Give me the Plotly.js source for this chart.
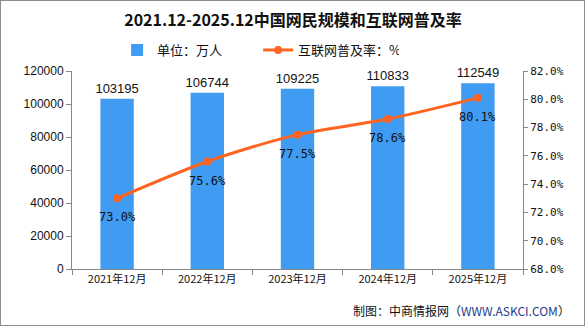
<!DOCTYPE html>
<html><head><meta charset="utf-8">
<script src="https://cdn.plot.ly/plotly-3.0.1.min.js"></script>
<style>
html,body{margin:0;padding:0;background:#fff;}
#wrap{position:absolute;left:0;top:0;width:583px;height:324px;border:1px solid #8c8c8c;}
#chart{position:absolute;left:0;top:0;width:586px;height:327px;}
</style></head>
<body>
<div id="chart"></div>
<div id="wrap"></div>
<script>
const categories = ["2021年12月","2022年12月","2023年12月","2024年12月","2025年12月"];
const netizens = [103195,106744,109225,110833,112549];
const penetration = [73.0,75.6,77.5,78.6,80.1];
const barName = "单位：万人";
const lineName = "互联网普及率：%";

const font = "'Liberation Sans', Arial, 'Noto Sans CJK SC', sans-serif";
const cjk = "'Noto Sans CJK SC', sans-serif";
const mono = "'DejaVu Sans Mono', monospace";

const traces = [
  {type:"bar", x:categories, y:netizens, name:barName, width:0.37,
   marker:{color:"#3F9CF2"}, text:netizens.map(String), textposition:"outside", constraintext:"none",
   textfont:{family:font,size:13,color:"#111"}, cliponaxis:false, yaxis:"y"},
  {type:"scatter", mode:"lines+markers", x:categories, y:penetration, name:lineName, yaxis:"y2",
   line:{color:"#FF6522",width:3,shape:"spline",smoothing:0.8},
   marker:{color:"#FF6522",size:8}}
];

const lineLabels = categories.map((c,i)=>({
  xref:"x", yref:"y2", x:c, y:penetration[i], yshift:-19, showarrow:false,
  text:penetration[i].toFixed(1)+"%", font:{family:mono,size:12,color:"#111"}
}));

const layout = {
  width:586, height:327,
  margin:{l:72,r:63,t:71,b:58},
  paper_bgcolor:"#fff", plot_bgcolor:"#fff",
  showlegend:true,
  legend:{orientation:"h", x:0.1, xanchor:"left", y:1.106, yanchor:"middle",
    font:{family:cjk,size:13,color:"#111"}, entrywidth:96, entrywidthmode:"pixels", traceorder:"normal"},
  title:{text:"<b>2021.12-2025.12中国网民规模和互联网普及率</b>", x:0.5, xanchor:"center", y:0.939, yanchor:"middle",
    font:{family:cjk,size:16,color:"#111"}},
  xaxis:{type:"category", showline:true, linecolor:"#888", linewidth:1,
    ticks:"outside", ticklen:5, tickcolor:"#888", tickson:"boundaries",
    tickfont:{family:cjk,size:11,color:"#111"}, showgrid:false, zeroline:false},
  yaxis:{range:[0,120000], dtick:20000, showline:true, linecolor:"#888", linewidth:1,
    ticks:"outside", ticklen:5, tickcolor:"#888", showgrid:false, zeroline:false,
    tickformat:"d", tickfont:{family:font,size:12,color:"#111"}},
  yaxis2:{range:[68,82], dtick:2, overlaying:"y", side:"right", showline:true, linecolor:"#888", linewidth:1,
    ticks:"outside", ticklen:4, tickcolor:"#888", showgrid:false, zeroline:false,
    tickformat:".1f", ticksuffix:"%", tickfont:{family:mono,size:11,color:"#111"}},
  annotations:lineLabels.concat([
    {xref:"paper", yref:"paper", x:1.109, y:-0.212, xanchor:"right", yanchor:"middle", showarrow:false,
     text:"制图：中商情报网（<span style='color:#1F3A8A'>WWW.ASKCI.COM</span>）",
     font:{family:cjk,size:12,color:"#111"}}
  ])
};
Plotly.newPlot("chart", traces, layout, {displayModeBar:false, staticPlot:true});
</script>
</body></html>
